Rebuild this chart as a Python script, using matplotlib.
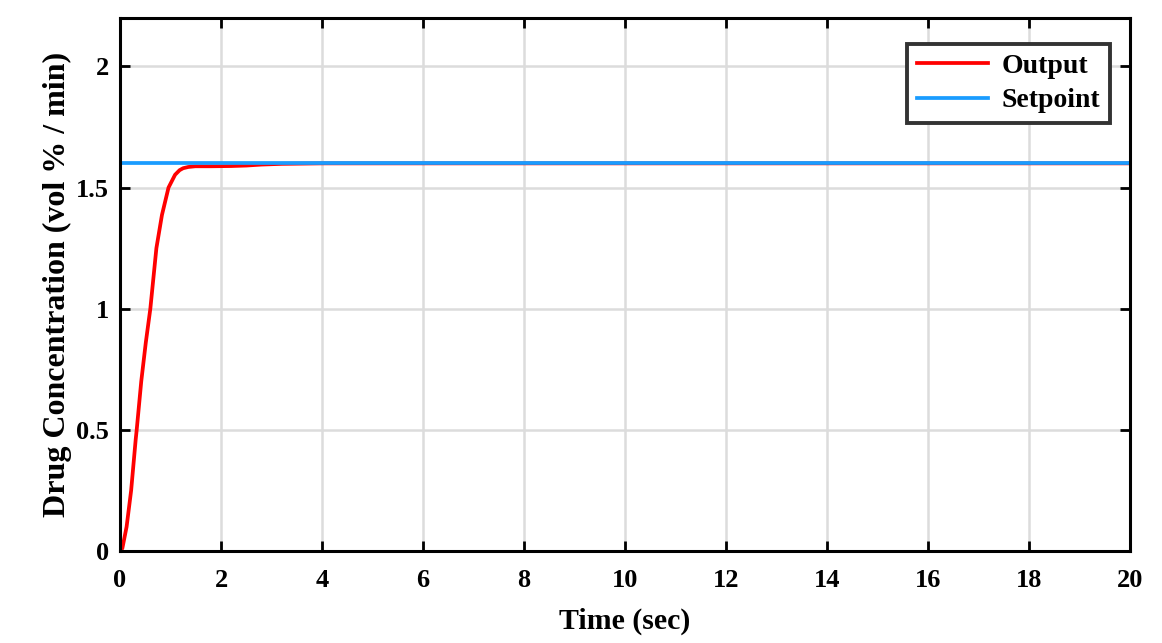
import matplotlib.pyplot as plt
import numpy as np

# step response
t_out = [0, 0.046, 0.13, 0.22, 0.31, 0.33, 0.42, 0.51, 0.60, 0.72, 0.83, 0.96, 1.09, 1.18, 1.25, 1.35, 1.49, 1.8, 2.2, 2.5, 2.8, 3.2, 4.0, 6, 10, 15, 20]
y_out = [0, 0.011, 0.10, 0.25, 0.46, 0.50, 0.70, 0.86, 1.0, 1.25, 1.387, 1.5, 1.553, 1.572, 1.58, 1.585, 1.588, 1.588, 1.589, 1.591, 1.595, 1.598, 1.6, 1.6, 1.6, 1.6, 1.6]
t_sp = [0, 20]
y_sp = [1.6, 1.6]

xticks = np.arange(0, 21, 2)
yticks = [0, 0.5, 1, 1.5, 2]
ytick_labels = ['0', '0.5', '1', '1.5', '2']

plt.rcParams['font.family'] = ['Liberation Serif', 'DejaVu Serif']
plt.rcParams['font.weight'] = 'bold'

fig = plt.figure(figsize=(11.62, 6.43), dpi=100)
ax = fig.add_axes([0.1033, 0.1431, 0.8692, 0.8289])

ax.plot(t_out, y_out, color='#ff0000', lw=2.7, label='Output', solid_joinstyle='round')
ax.plot(t_sp, y_sp, color='#1a9cff', lw=2.7, label='Setpoint')

ax.set_xlim(0, 20)
ax.set_ylim(0, 2.2)
ax.set_xticks(xticks)
ax.set_yticks(yticks)
ax.set_yticklabels(ytick_labels)
ax.grid(True, color='#dcdcdc', lw=1.8)
ax.set_axisbelow(True)
ax.tick_params(direction='in', length=7, width=2, labelsize=19, top=True, right=True)
ax.tick_params(axis='x', pad=13)
ax.tick_params(axis='y', pad=8)
for s in ax.spines.values():
    s.set_linewidth(2.2)
    s.set_color('black')

ax.set_xlabel('Time (sec)', fontsize=21.5, fontweight='bold', labelpad=11)
ax.set_ylabel('Drug Concentration (vol % / min)', fontsize=23, fontweight='bold', labelpad=3)

leg = ax.legend(loc='upper right', bbox_to_anchor=(0.98, 0.952), fontsize=20, fancybox=False,
                framealpha=1, edgecolor='#333333', handlelength=2.55, handletextpad=0.5,
                borderpad=0.35, labelspacing=0.33, borderaxespad=0)
leg.get_frame().set_linewidth(2.8)
for txt in leg.get_texts():
    txt.set_fontweight('bold')

fig.savefig('out.png', dpi=100)
